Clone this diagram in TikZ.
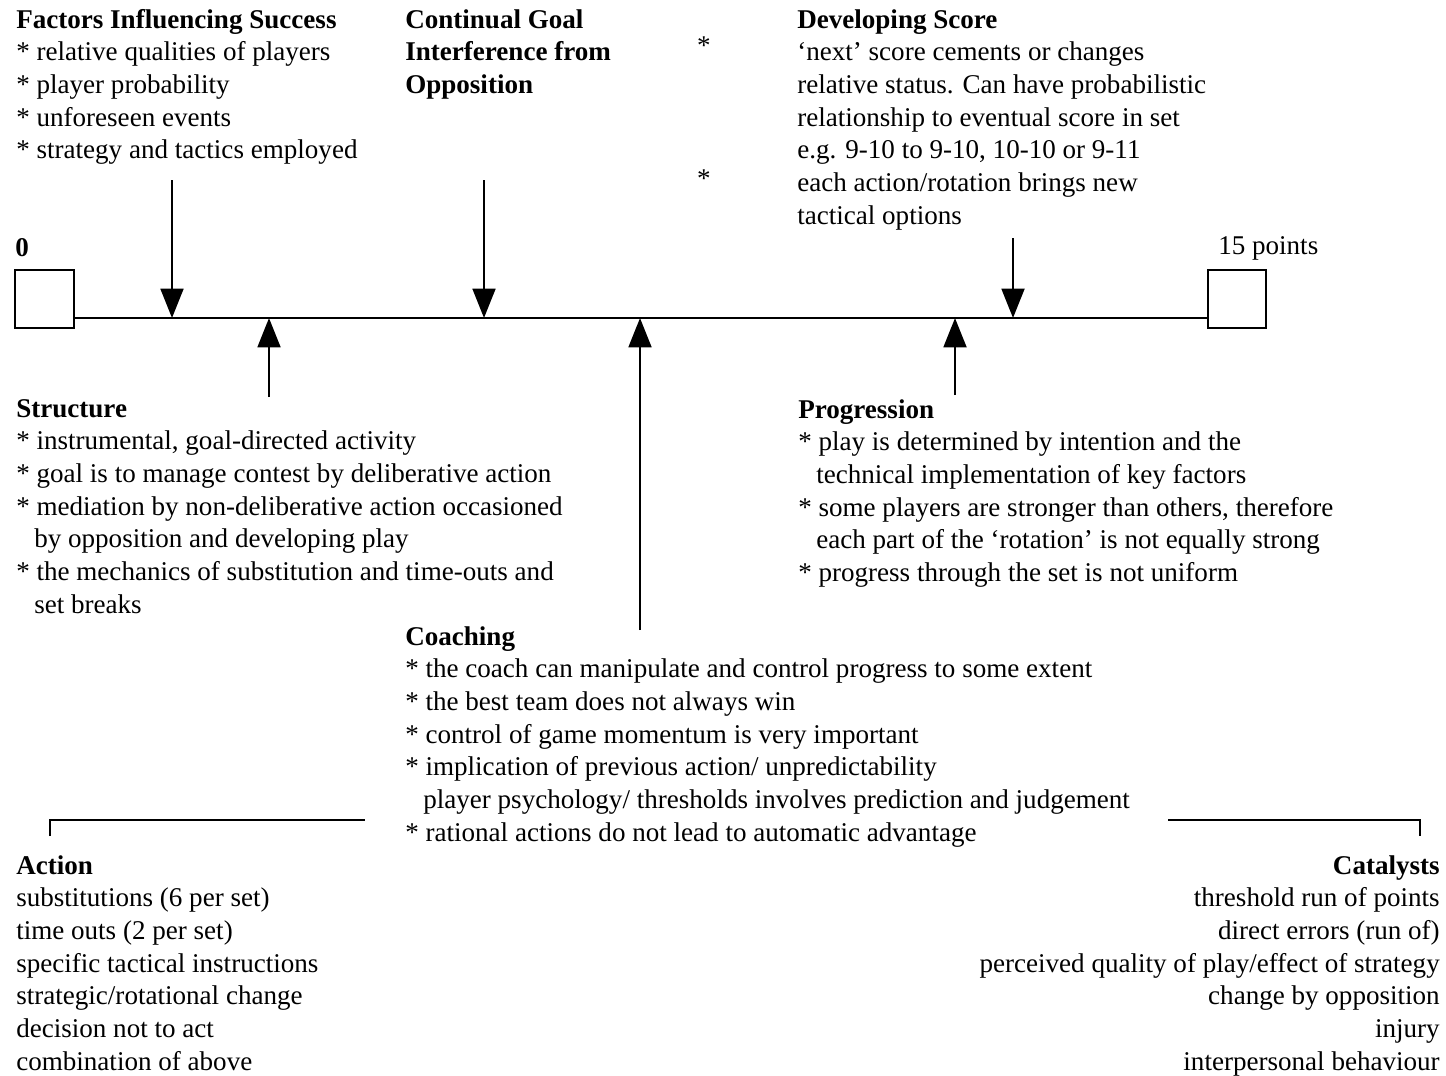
\documentclass[tikz,border=0pt]{standalone}
\usepackage{fontspec}
\setmainfont{Liberation Serif}
\usetikzlibrary{arrows.meta}
\tikzset{
  txt/.style={inner sep=0pt, align=left, anchor=north west, font=\fontsize{20.3}{24.5}\selectfont},
  txtr/.style={inner sep=0pt, align=right, anchor=north east, font=\fontsize{20.3}{24.5}\selectfont},
  lbl/.style={inner sep=0pt, font=\fontsize{20.3}{24.5}\selectfont},
  endbox/.style={draw, line width=1.6pt, minimum width=44pt, minimum height=43.5pt, inner sep=0pt},
  timeline/.style={line width=1.6pt},
  arr/.style={line width=2.2pt, -{Triangle[width=17pt,length=22pt]}},
  bracket/.style={line width=1.3pt}
}
\begin{document}
\begin{tikzpicture}[x=0.75pt, y=-0.75pt]
\useasboundingbox (0,0) rectangle (1446,1075);

% end boxes and timeline
\node[endbox] (box0) at (44.5,299) {};
\node[endbox] (box15) at (1237,299) {};
\node[lbl, anchor=west] (zero) at (15,248) {\textbf{0}};
\node[lbl, anchor=west] (fifteen) at (1218,248) {15 points};
\coordinate (L) at (74,318);
\coordinate (R) at (1207,318);
\draw[timeline] (L) -- (R);

% arrow points on the timeline
\coordinate (t1) at (172,318);
\coordinate (t2) at (269,318);
\coordinate (t3) at (484,318);
\coordinate (t4) at (640,318);
\coordinate (t5) at (955,318);
\coordinate (t6) at (1013,318);
\coordinate (s1) at (172,180);
\coordinate (s2) at (269,397);
\coordinate (s3) at (484,180);
\coordinate (s4) at (640,630);
\coordinate (s5) at (955,395);
\coordinate (s6) at (1013,238);
\draw[arr] (s1) -- (t1);
\draw[arr] (s2) -- (t2);
\draw[arr] (s3) -- (t3);
\draw[arr] (s4) -- (t4);
\draw[arr] (s5) -- (t5);
\draw[arr] (s6) -- (t6);

% text blocks
\node[txt] (factors) at (16,9) {\textbf{Factors Influencing Success}\\
* relative qualities of players\\
* player probability\\
* unforeseen events\\
* strategy and tactics employed};

\node[txt] (goal) at (405,9) {\textbf{Continual Goal}\\
\textbf{Interference from}\\
\textbf{Opposition}};

\node[txt] (score) at (797,9) {\textbf{Developing Score}\\
‘next’ score cements or changes\\
relative status. Can have probabilistic\\
relationship to eventual score in set\\
e.g. 9-10 to 9-10, 10-10 or 9-11\\
each action/rotation brings new\\
tactical options};
\node[lbl] (ast1) at (704,46) {*};
\node[lbl] (ast2) at (704,179) {*};

\node[txt] (structure) at (16,399) {\textbf{Structure}\\
* instrumental, goal-directed activity\\
* goal is to manage contest by deliberative action\\
* mediation by non-deliberative action occasioned\\
\phantom{*\,}by opposition and developing play\\
* the mechanics of substitution and time-outs and\\
\phantom{*\,}set breaks};

\node[txt] (progression) at (798,399) {\textbf{Progression}\\
* play is determined by intention and the\\
\phantom{*\,}technical implementation of key factors\\
* some players are stronger than others, therefore\\
\phantom{*\,}each part of the ‘rotation’ is not equally strong\\
* progress through the set is not uniform};

\node[txt] (coaching) at (405,626) {\textbf{Coaching}\\
* the coach can manipulate and control progress to some extent\\
* the best team does not always win\\
* control of game momentum is very important\\
* implication of previous action/ unpredictability\\
\phantom{*\,}player psychology/ thresholds involves prediction and judgement\\
* rational actions do not lead to automatic advantage};

% brackets
\coordinate (bl1) at (50,836);
\coordinate (bl2) at (50,820);
\coordinate (bl3) at (365,820);
\coordinate (br1) at (1168,820);
\coordinate (br2) at (1420,820);
\coordinate (br3) at (1420,836);
\draw[bracket] (bl1) -- (bl2) -- (bl3);
\draw[bracket] (br1) -- (br2) -- (br3);

\node[txt] (action) at (16,855) {\textbf{Action}\\
substitutions (6 per set)\\
time outs (2 per set)\\
specific tactical instructions\\
strategic/rotational change\\
decision not to act\\
combination of above};

\node[txtr] (catalysts) at (1440,855) {\textbf{Catalysts}\\
threshold run of points\\
direct errors (run of)\\
perceived quality of play/effect of strategy\\
change by opposition\hspace{6pt}\\
injury\hspace{5pt}\\
interpersonal behaviour\hspace{2pt}};
\end{tikzpicture}
\end{document}
